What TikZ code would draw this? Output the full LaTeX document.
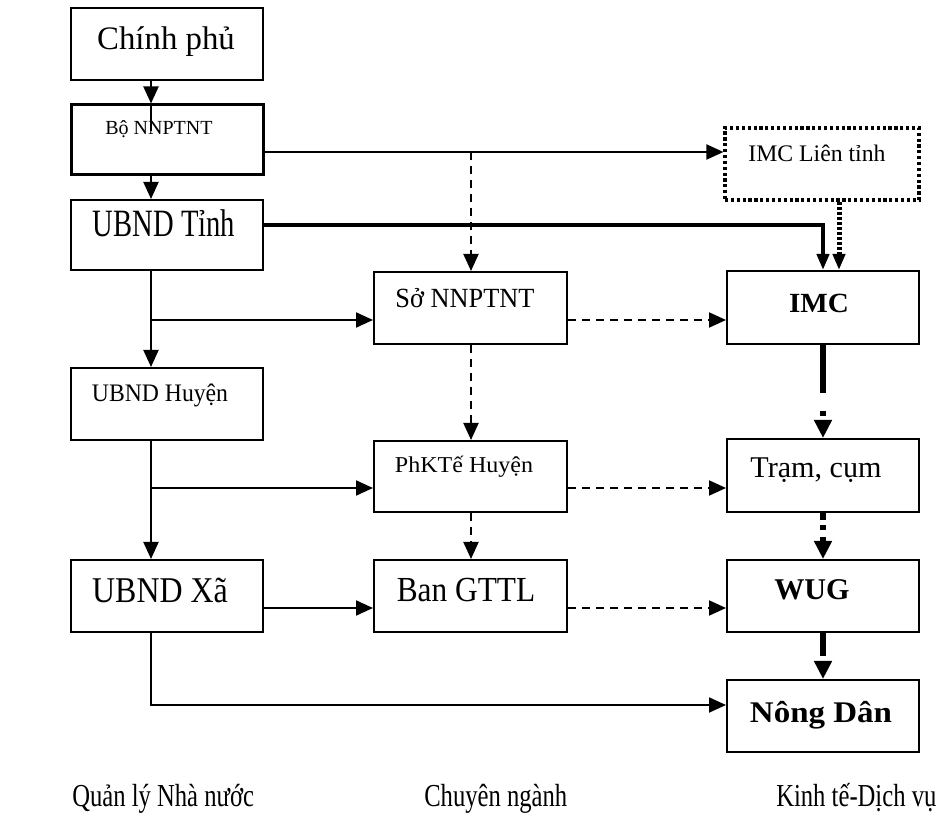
\documentclass[tikz,border=0pt]{standalone}
\usepackage{fontspec}
\setmainfont{Liberation Serif}
\usepackage{graphicx}
\usetikzlibrary{arrows.meta,fit}

% font size helper (size in pt)
\newcommand\setfs[1]{\fontsize{#1}{#1}\selectfont}
% horizontal stretch of a label
\newcommand\hstretch[2]{\scalebox{#1}[1]{#2}}

\tikzset{
  box/.style={draw, line width=1.5pt, inner sep=0pt, rectangle},
  lbl/.style={anchor=base, inner sep=0pt},
  tipthin/.style={-{Triangle[length=12.75pt,width=11.25pt]}},
  tipthick/.style={-{Triangle[length=13.5pt,width=12.75pt]}},
  tipnarrow/.style={-{Triangle[length=12pt,width=9pt]}},
  conn/.style={line width=1.5pt, tipthin},
  dconn/.style={line width=1.5pt, tipthin, dash pattern=on 6pt off 4.5pt},
  heavy/.style={line width=3pt},
}

\begin{document}
\begin{tikzpicture}[x=0.75pt, y=-0.75pt]
\useasboundingbox (0,0) rectangle (940,823);

% ---- left column: state management ----
\node[box, fit={(71,8) (263,80)}] (cp) {};
\node[box, line width=2.25pt, fit={(71,105) (263,175)}] (bo) {};
\node[box, fit={(71,200) (263,270)}] (tinh) {};
\node[box, fit={(71,368) (263,440)}] (huyen) {};
\node[box, fit={(71,560) (263,632)}] (xa) {};

% ---- middle column: sector agencies ----
\node[box, fit={(374,272) (567,344)}] (so) {};
\node[box, fit={(374,441) (567,512)}] (phk) {};
\node[box, fit={(374,560) (567,632)}] (ban) {};

% ---- right column: economic services ----
\node[box, line width=2.4pt, dash pattern=on 2.4pt off 2pt, fit={(725,128) (919,200)}] (lien) {};
\node[box, fit={(727,271) (919,344)}] (imc) {};
\node[box, fit={(727,439) (919,512)}] (tram) {};
\node[box, fit={(727,560) (919,632)}] (wug) {};
\node[box, fit={(727,680) (919,752)}] (nd) {};

% ---- box labels ----
\node[lbl, font=\setfs{24.6}] (cpT) at (166,50) {Chính phủ};
\node[lbl, font=\setfs{15}] (boT) at (159,135) {Bộ NNPTNT};
\node[lbl, font=\setfs{29}] (tinhT) at (164,237) {\hstretch{0.74}{UBND Tỉnh}};
\node[lbl, font=\setfs{18.9}] (huyenT) at (160,402) {\hstretch{0.94}{UBND Huyện}};
\node[lbl, font=\setfs{27.2}] (xaT) at (160,603) {\hstretch{0.88}{UBND Xã}};
\node[lbl, font=\setfs{20.8}] (soT) at (465,308) {\hstretch{0.95}{Sở NNPTNT}};
\node[lbl, font=\setfs{17}] (phkT) at (464,473) {\hstretch{1.06}{PhKTế Huyện}};
\node[lbl, font=\setfs{26.4}] (banT) at (466,602) {\hstretch{0.89}{Ban GTTL}};
\node[lbl, font=\setfs{17.8}] (lienT) at (817,162) {IMC Liên tỉnh};
\node[lbl, font=\setfs{20.8}\bfseries] (imcT) at (819,313) {\hstretch{1.05}{IMC}};
\node[lbl, font=\setfs{22.6}] (tramT) at (816,478) {Trạm, cụm};
\node[lbl, font=\setfs{22.6}\bfseries] (wugT) at (812,600) {WUG};
\node[lbl, font=\setfs{22.5}\bfseries] (ndT) at (821,722) {\hstretch{1.1}{Nông Dân}};

% ---- column captions ----
\node[anchor=base west, inner sep=0pt, font=\setfs{24}] (capL) at (72,806) {\hstretch{0.77}{Quản lý Nhà nước}};
\node[anchor=base west, inner sep=0pt, font=\setfs{24}] (capM) at (424,806) {\hstretch{0.77}{Chuyên ngành}};
\node[anchor=base west, inner sep=0pt, font=\setfs{24}] (capR) at (776,806) {\hstretch{0.77}{Kinh tế-Dịch vụ}};

% ---- guide coordinates for connector lanes ----
\coordinate (colL) at (151,0);
\coordinate (colM) at (471,0);
\coordinate (colR) at (823,0);
\coordinate (colRd) at (839,0);
\coordinate (rowBo) at (0,152);
\coordinate (rowTinh) at (0,225);
\coordinate (rowSo) at (0,320);
\coordinate (rowPh) at (0,488);
\coordinate (rowXa) at (0,608);
\coordinate (rowNd) at (0,705);
\coordinate (boStub) at (151,131);

% ---- left chain ----
\draw[conn] (cp.south -| colL) -- (bo.north -| colL);
\draw[line width=1.5pt] (bo.north -| colL) -- (boStub);
\draw[conn] (bo.south -| colL) -- (tinh.north -| colL);
\draw[conn] (tinh.south -| colL) -- (huyen.north -| colL);
\draw[conn] (huyen.south -| colL) -- (xa.north -| colL);

% ---- horizontal links ----
\draw[conn] (bo.east |- rowBo) -- (lien.west |- rowBo);
\draw[dconn] (colM |- rowBo) -- (so.north -| colM);
\draw[heavy, tipnarrow] (tinh.east |- rowTinh) -| (imc.north -| colR);
\draw[line width=3.75pt, dash pattern=on 2.25pt off 1.5pt, tipnarrow] (lien.south -| colRd) -- (imc.north -| colRd);

\draw[conn] (colL |- rowSo) -- (so.west |- rowSo);
\draw[dconn] (so.east |- rowSo) -- (imc.west |- rowSo);
\draw[dconn] (so.south -| colM) -- (phk.north -| colM);

\draw[conn] (colL |- rowPh) -- (phk.west |- rowPh);
\draw[dconn] (phk.east |- rowPh) -- (tram.west |- rowPh);
\draw[dconn] (phk.south -| colM) -- (ban.north -| colM);

\draw[conn] (xa.east |- rowXa) -- (ban.west |- rowXa);
\draw[dconn] (ban.east |- rowXa) -- (wug.west |- rowXa);

\draw[conn] (xa.south -| colL) |- (nd.west |- rowNd);

% ---- right chain ----
\draw[line width=4.2pt, dash pattern=on 36pt off 13.5pt on 3.75pt off 22.5pt, tipthick] (imc.south -| colR) -- (tram.north -| colR);
\draw[line width=4.2pt, dash pattern=on 5.25pt off 3.75pt on 3.75pt off 5.25pt, tipthick] (tram.south -| colR) -- (wug.north -| colR);
\draw[line width=4.2pt, dash pattern=on 17.25pt off 22.5pt, tipthick] (wug.south -| colR) -- (nd.north -| colR);
\end{tikzpicture}
\end{document}
